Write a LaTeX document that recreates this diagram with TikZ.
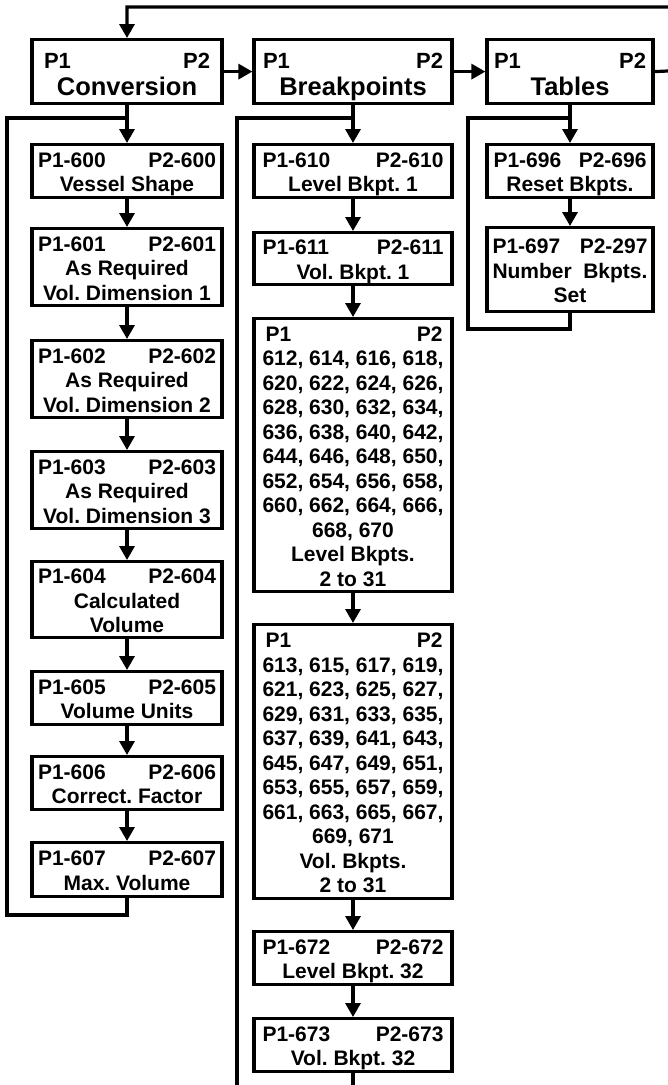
\documentclass[tikz,border=0pt]{standalone}
\usepackage{fontspec}
\setmainfont{Liberation Sans}
\usetikzlibrary{arrows.meta}
\frenchspacing
\newcommand\pq[3]{\makebox[#1]{#2\hfill #3}}
\begin{document}
\begin{tikzpicture}[x=1pt,y=-1pt,
  lnk/.style={line width=3.2pt},
  arr/.style={lnk,-{Triangle[width=15pt,length=14pt]}},
  box/.style={draw, line width=3.2pt, align=center, inner sep=0pt, anchor=north,
    font=\fontsize{21}{24.5}\selectfont\bfseries\frenchspacing, text depth=0pt},
  lc/.style={box, minimum width=190pt},
  mc/.style={box, minimum width=198pt},
  rc/.style={box, minimum width=166pt},
  two/.style={text height=41.5pt},
  three/.style={text height=66pt},
  eleven/.style={text height=262pt},
  topbox/.style={draw, line width=3.2pt, align=center, inner sep=0pt, anchor=north,
    minimum height=64pt, font=\fontsize{25.5}{27.6}\selectfont\bfseries\frenchspacing,
    text height=48.6pt, text depth=0pt},
]
\useasboundingbox (0,0) rectangle (668,1085);

% top row
\node[topbox, minimum width=190pt] (conv) at (127,38)
  {{\fontsize{22}{27.6}\selectfont\pq{166pt}{P1}{P2}}\\Conversion};
\node[topbox, minimum width=198pt] (brk) at (353,38)
  {{\fontsize{22}{27.6}\selectfont\pq{180pt}{P1}{P2}}\\Breakpoints};
\node[topbox, minimum width=166pt] (tab) at (570,38)
  {{\fontsize{22}{27.6}\selectfont\pq{152pt}{P1}{P2}}\\Tables};

% left column
\node[lc,two,minimum height=53pt] (c600) at (127,143) {\pq{178pt}{P1-600}{P2-600}\\Vessel Shape};
\node[lc,three,minimum height=77pt] (c601) at (127,227) {\pq{178pt}{P1-601}{P2-601}\\As Required\\Vol. Dimension 1};
\node[lc,three,minimum height=77pt] (c602) at (127,339) {\pq{178pt}{P1-602}{P2-602}\\As Required\\Vol. Dimension 2};
\node[lc,three,minimum height=77pt] (c603) at (127,450) {\pq{178pt}{P1-603}{P2-603}\\As Required\\Vol. Dimension 3};
\node[lc,three,minimum height=76pt] (c604) at (127,560) {\pq{178pt}{P1-604}{P2-604}\\Calculated\\Volume};
\node[lc,two,minimum height=53pt] (c605) at (127,670) {\pq{178pt}{P1-605}{P2-605}\\Volume Units};
\node[lc,two,minimum height=53pt] (c606) at (127,755) {\pq{178pt}{P1-606}{P2-606}\\Correct. Factor};
\node[lc,two,minimum height=54pt] (c607) at (127,841) {\pq{178pt}{P1-607}{P2-607}\\Max. Volume};

% middle column
\node[mc,two,minimum height=53pt] (b610) at (353,143) {\pq{181pt}{P1-610}{P2-610}\\Level Bkpt. 1};
\node[mc,two,minimum height=52pt] (b611) at (353,231) {\pq{181pt}{P1-611}{P2-611}\\Vol. Bkpt. 1};
\node[mc,eleven,minimum height=273pt] (bL) at (353,317)
  {\pq{181pt}{\hspace{3pt}P1}{P2\hspace{1pt}}\\
   612, 614, 616, 618,\\620, 622, 624, 626,\\628, 630, 632, 634,\\636, 638, 640, 642,\\
   644, 646, 648, 650,\\652, 654, 656, 658,\\660, 662, 664, 666,\\668, 670\\Level Bkpts.\\2 to 31};
\node[mc,eleven,minimum height=274pt] (bV) at (353,623)
  {\pq{181pt}{\hspace{3pt}P1}{P2\hspace{1pt}}\\
   613, 615, 617, 619,\\621, 623, 625, 627,\\629, 631, 633, 635,\\637, 639, 641, 643,\\
   645, 647, 649, 651,\\653, 655, 657, 659,\\661, 663, 665, 667,\\669, 671\\Vol. Bkpts.\\2 to 31};
\node[mc,two,minimum height=53pt] (b672) at (353,930) {\pq{181pt}{P1-672}{P2-672}\\Level Bkpt. 32};
\node[mc,two,minimum height=53pt] (b673) at (353,1017) {\pq{181pt}{P1-673}{P2-673}\\Vol. Bkpt. 32};

% right column
\node[rc,two,minimum height=53pt] (t696) at (570,143) {\pq{153pt}{P1-696}{P2-696}\\Reset Bkpts.};
\node[rc,three,minimum height=84pt] (t697) at (570,226) {\pq{155pt}{P1-697}{P2-297}\\\pq{155pt}{Number}{Bkpts.}\\Set};

% coordinates
\coordinate (tr1) at (690,70);
\coordinate (tr2) at (690,7);
\coordinate (tl) at (127,7);
\coordinate (cj) at (127,118);
\coordinate (cl1) at (7,118);
\coordinate (cl2) at (7,915);
\coordinate (cb) at (127,915);
\coordinate (bj) at (353,118);
\coordinate (bl1) at (237,118);
\coordinate (bl2) at (237,1095);
\coordinate (bend) at (353,1095);
\coordinate (tj) at (570,118);
\coordinate (tl1) at (468,118);
\coordinate (tl2) at (468,329);
\coordinate (tb) at (570,329);

% top connectors
\draw[arr] (tab.east) -- (tr1) -- (tr2) -- (tl) -- (conv.north);
\draw[arr] (conv.east) -- (brk.west);
\draw[arr] (brk.east) -- (tab.west);

% left column
\draw[arr] (conv.south) -- (c600.north);
\draw[arr] (c600) -- (c601);
\draw[arr] (c601) -- (c602);
\draw[arr] (c602) -- (c603);
\draw[arr] (c603) -- (c604);
\draw[arr] (c604) -- (c605);
\draw[arr] (c605) -- (c606);
\draw[arr] (c606) -- (c607);
\draw[lnk] (c607.south) -- (cb) -- (cl2) -- (cl1) -- (cj);

% middle column
\draw[arr] (brk.south) -- (b610.north);
\draw[arr] (b610) -- (b611);
\draw[arr] (b611) -- (bL);
\draw[arr] (bL) -- (bV);
\draw[arr] (bV) -- (b672);
\draw[arr] (b672) -- (b673);
\draw[lnk] (b673.south) -- (bend);
\draw[lnk] (bj) -- (bl1) -- (bl2);

% right column
\draw[arr] (tab.south) -- (t696.north);
\draw[arr] (t696) -- (t697);
\draw[lnk] (t697.south) -- (tb) -- (tl2) -- (tl1) -- (tj);
\end{tikzpicture}
\end{document}
